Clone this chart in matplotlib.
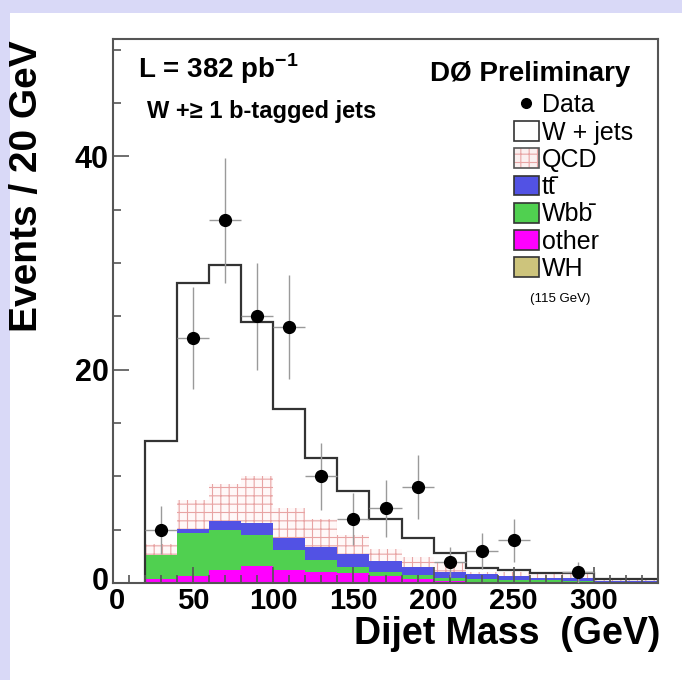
import numpy as np
import matplotlib
matplotlib.use("Agg")
import matplotlib.pyplot as plt
import matplotlib.transforms as mtransforms
from matplotlib.patches import Patch, Rectangle
from matplotlib.lines import Line2D
from matplotlib.legend_handler import HandlerTuple
from matplotlib.ticker import MultipleLocator

plt.rcParams['font.family'] = ['Liberation Sans', 'DejaVu Sans']
plt.rcParams['mathtext.fontset'] = 'custom'
plt.rcParams['mathtext.rm'] = 'Liberation Sans'
plt.rcParams['mathtext.bf'] = 'Liberation Sans:bold'
plt.rcParams['hatch.linewidth'] = 0.8

# 20 GeV bins from 20 to 340 GeV
bin_edges = np.arange(20, 341, 20)
bin_centers = bin_edges[:-1] + 10

# Expected contributions per bin (stacked from the bottom up)
other = [0.42, 0.66, 1.18, 1.60, 1.20, 1.02, 0.90, 0.70, 0.38, 0.20, 0.12, 0.10, 0.08, 0.08, 0.05, 0.05]
wbb   = [2.18, 3.99, 3.78, 2.90, 1.90, 1.18, 0.63, 0.36, 0.37, 0.24, 0.23, 0.20, 0.17, 0.12, 0.07, 0.05]
ttbar = [0.00, 0.45, 0.84, 1.15, 1.15, 1.20, 1.17, 1.00, 0.78, 0.62, 0.49, 0.35, 0.20, 0.25, 0.08, 0.10]
qcd   = [1.10, 2.70, 3.50, 4.35, 2.75, 2.57, 1.80, 1.09, 0.87, 0.94, 0.22, 0.35, 0.39, 0.39, 0.15, 0.15]
wjets = [9.60, 20.3, 20.5, 14.5, 9.30, 5.73, 4.15, 2.85, 1.78, 0.78, 0.38, 0.22, 0.06, 0.06, 0.05, 0.05]

# Observed events per bin
data_counts = [5, 23, 34, 25, 24, 10, 6, 7, 9, 2, 3, 4, 0, 1, 0, 0]

x_ticks = [0, 50, 100, 150, 200, 250, 300]
y_ticks = [0, 20, 40]

colors = {
    'other': '#ff00ff',
    'wbb': '#50d050',
    'ttbar': '#5252e4',
    'qcd_hatch': '#e8a4a4',
    'wh': '#cdc47c',
}

fig = plt.figure(figsize=(6.82, 6.80), dpi=100)

# light lavender border along the top and left edges
fig.patches.append(Rectangle((0, 1 - 13 / 680), 1, 13 / 680, transform=fig.transFigure,
                             facecolor='#d9d9f7', edgecolor='none', zorder=0))
fig.patches.append(Rectangle((0, 0), 10 / 682, 1, transform=fig.transFigure,
                             facecolor='#d9d9f7', edgecolor='none', zorder=0))

ax = fig.add_axes([113 / 682, 1 - 583 / 680, 545 / 682, 544 / 680])

layers = [np.array(other), np.array(wbb), np.array(ttbar), np.array(qcd), np.array(wjets)]
tops = np.cumsum(layers, axis=0)
bottoms = np.vstack([np.zeros(len(bin_centers)), tops[:-1]])

ax.stairs(tops[0], bin_edges, baseline=bottoms[0], fill=True, color=colors['other'], lw=0)
ax.stairs(tops[1], bin_edges, baseline=bottoms[1], fill=True, color=colors['wbb'], lw=0)
ax.stairs(tops[2], bin_edges, baseline=bottoms[2], fill=True, color=colors['ttbar'], lw=0)
ax.stairs(tops[3], bin_edges, baseline=bottoms[3], fill=True, facecolor='#fff8f8',
          edgecolor=colors['qcd_hatch'], hatch='++', lw=0)
ax.stairs(tops[4], bin_edges, baseline=bottoms[4], fill=True, facecolor='white', lw=0)
ax.stairs(tops[4], bin_edges, baseline=0, color='#333333', lw=1.6)

counts = np.array(data_counts, dtype=float)
mask = counts > 0
ax.errorbar(bin_centers[mask], counts[mask], yerr=np.sqrt(counts[mask]), xerr=10,
            fmt='o', color='black', ms=8.5, ecolor='#9a9a9a', elinewidth=1.0, capsize=0, zorder=5)

ax.set_xlim(0, 340)
ax.set_ylim(0, 51)
ax.set_xticks(x_ticks)
ax.set_yticks(y_ticks)
ax.xaxis.set_minor_locator(MultipleLocator(10))
ax.yaxis.set_minor_locator(MultipleLocator(5))
ax.tick_params(which='both', direction='in', top=False, right=False, color='#555555', width=1.2)
ax.tick_params(which='major', length=11.5)
ax.tick_params(which='minor', length=5.5)
ax.tick_params(axis='x', labelsize=21, pad=3)
ax.tick_params(axis='y', labelsize=22, pad=3)
for lab in ax.get_xticklabels() + ax.get_yticklabels():
    lab.set_fontweight('bold')
for sp in ax.spines.values():
    sp.set_color('#555555')
    sp.set_linewidth(1.5)

# nudge the two "0" labels apart at the origin corner
y0_label = ax.yaxis.get_major_ticks()[0].label1
y0_label.set_transform(y0_label.get_transform()
                       + mtransforms.ScaledTranslation(0, 4 / 100, fig.dpi_scale_trans))
x0_label = ax.xaxis.get_major_ticks()[0].label1
x0_label.set_transform(x0_label.get_transform()
                       + mtransforms.ScaledTranslation(4 / 100, 0, fig.dpi_scale_trans))

ax.text(0.046, 0.928, r'L = 382 pb$^{\mathbf{-1}}$', transform=ax.transAxes,
        fontsize=20, fontweight='bold', ha='left', va='baseline')
ax.text(0.062, 0.855, 'W +\u2265 1 b-tagged jets', transform=ax.transAxes,
        fontsize=17, fontweight='bold', ha='left', va='baseline')
ax.text(0.949, 0.923, 'D\u00d8 Preliminary', transform=ax.transAxes,
        fontsize=20, fontweight='bold', ha='right', va='baseline')

handles = [
    Line2D([], [], marker='o', ls='none', color='black', ms=7),
    Patch(facecolor='white', edgecolor='#333333', lw=1.2),
    (Patch(facecolor='#fbf0f0', edgecolor=colors['qcd_hatch'], hatch='++', lw=0),
     Patch(facecolor='none', edgecolor='#555555', lw=1.2)),
    Patch(facecolor=colors['ttbar'], edgecolor='#333333', lw=1.2),
    Patch(facecolor=colors['wbb'], edgecolor='#333333', lw=1.2),
    Patch(facecolor=colors['other'], edgecolor='#333333', lw=1.2),
    Patch(facecolor=colors['wh'], edgecolor='#333333', lw=1.2),
]
labels = ['Data', 'W + jets', 'QCD', 'tt\u0304', 'Wbb\u0304', 'other', 'WH']
ax.legend(handles, labels, loc='upper left', bbox_to_anchor=(0.735, 0.90),
          frameon=False, fontsize=18, handlelength=1.0, handleheight=0.85,
          handletextpad=0.12, labelspacing=0.13, borderpad=0, borderaxespad=0,
          handler_map={tuple: HandlerTuple(ndivide=1)})
ax.text(0.82, 0.522, '(115 GeV)', transform=ax.transAxes, fontsize=9.5,
        ha='center', va='center')

fig.text(27 / 682, 1 - 40 / 680, 'Events / 20 GeV', rotation=90, ha='center', va='top',
         fontsize=28, fontweight='bold')
fig.text(660 / 682, 1 - 652 / 680, 'Dijet Mass  (GeV)', ha='right', va='bottom',
         fontsize=27, fontweight='bold')

fig.savefig('out.png', dpi=100)
